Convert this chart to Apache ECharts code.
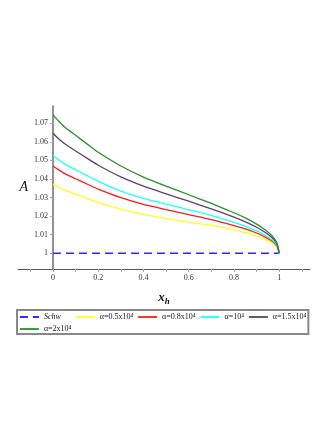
<!DOCTYPE html>
<html>
<head>
<meta charset="utf-8">
<script src="https://cdn.jsdelivr.net/npm/echarts@6/dist/echarts.min.js"></script>
<style>html,body{margin:0;padding:0;background:#fff}#c{width:332px;height:429px}</style>
</head>
<body>
<div id="c"></div>
<script>
var xs = [0, 0.02, 0.05, 0.1, 0.15, 0.2, 0.3, 0.4, 0.5, 0.6, 0.7, 0.8, 0.85, 0.9, 0.94, 0.97, 0.99, 1];
var schwX = [0, 1];
var schwY = [1, 1];
var a05 = [1.0372, 1.0359, 1.0341, 1.0318, 1.0295, 1.0273, 1.0238, 1.0209, 1.0186, 1.0167, 1.0150, 1.0126, 1.0111, 1.0093, 1.0073, 1.0054, 1.0032, 1.0];
var a08 = [1.0470, 1.0453, 1.0430, 1.0401, 1.0373, 1.0345, 1.0299, 1.0263, 1.0235, 1.0208, 1.0181, 1.0149, 1.0131, 1.0109, 1.0085, 1.0063, 1.0038, 1.0];
var a10 = [1.0526, 1.0507, 1.0481, 1.0449, 1.0418, 1.0387, 1.0335, 1.0295, 1.0264, 1.0234, 1.0203, 1.0166, 1.0145, 1.0120, 1.0094, 1.0070, 1.0042, 1.0];
var a15 = [1.0646, 1.0622, 1.0591, 1.0551, 1.0512, 1.0474, 1.0411, 1.0361, 1.0320, 1.0280, 1.0239, 1.0194, 1.0169, 1.0140, 1.0110, 1.0082, 1.0049, 1.0];
var a20 = [1.0745, 1.0718, 1.0681, 1.0635, 1.0589, 1.0544, 1.0470, 1.0410, 1.0361, 1.0315, 1.0268, 1.0218, 1.0190, 1.0157, 1.0124, 1.0092, 1.0055, 1.0];
var names = ['Schw', 'α=0.5x10⁴', 'α=0.8x10⁴', 'α=10⁴', 'α=1.5x10⁴', 'α=2x10⁴'];
var colors = ['#2a2aff', '#ffff1a', '#ff1a1a', '#1affff', '#5e3f6e', '#2a8f2a'];
var legendColors = ['#1a1aff', '#ffff1a', '#ee1a1a', '#1affff', '#3a1f3a', '#4aaa4a'];
var xLabels = [0, 0.2, 0.4, 0.6, 0.8, 1];
var xTicks = [-0.1, 0, 0.1, 0.2, 0.3, 0.4, 0.5, 0.6, 0.7, 0.8, 0.9, 1, 1.1];
var yLabels = [1, 1.01, 1.02, 1.03, 1.04, 1.05, 1.06, 1.07];

function pairs(x, y) { return x.map(function (v, i) { return [v, y[i]]; }); }

var serif = '"Liberation Serif", "DejaVu Serif", serif';
var curves = [a05, a08, a10, a15, a20];
var series = [{
  name: names[0], type: 'line', data: pairs(schwX, schwY), symbol: 'none',
  lineStyle: { color: colors[0], width: 1.5, type: [8, 5] }, itemStyle: { color: legendColors[0] }
}];
curves.forEach(function (c, i) {
  series.push({
    name: names[i + 1], type: 'line', data: pairs(xs, c), symbol: 'none',
    smooth: 0.2,
    lineStyle: { color: colors[i + 1], width: 1.3 }, itemStyle: { color: legendColors[i + 1] }
  });
});

var chart = echarts.init(document.getElementById('c'), null, { renderer: 'canvas' });
chart.setOption({
  animation: false,
  backgroundColor: '#fff',
  grid: { left: 18, right: 22, top: 106, bottom: 160, containLabel: false, outerBoundsMode: 'none' },
  xAxis: {
    type: 'value', min: -0.1547, max: 1.136,
    name: '{a|x}{b|h}', nameLocation: 'middle', nameGap: 20,
    nameTextStyle: { rich: {
      a: { fontFamily: serif, fontSize: 13, fontStyle: 'italic', fontWeight: 'bold', color: '#111' },
      b: { fontFamily: serif, fontSize: 9, fontStyle: 'italic', fontWeight: 'bold', color: '#111', padding: [8, 0, 0, 0] }
    } },
    axisLine: { lineStyle: { color: '#555', width: 1 } },
    axisTick: { show: true, length: 3, customValues: xTicks, lineStyle: { color: '#aaa' } },
    axisLabel: { customValues: xLabels, fontFamily: serif, fontSize: 8, color: '#333', margin: 5 },
    splitLine: { show: false }
  },
  yAxis: {
    type: 'value', min: 0.9915, max: 1.0793, offset: -35,
    name: 'A', nameLocation: 'middle', nameGap: 21, nameRotate: 0,
    nameTextStyle: { fontFamily: serif, fontSize: 14, fontStyle: 'italic', color: '#111' },
    axisLine: { onZero: false, lineStyle: { color: '#777', width: 1.6 } },
    axisTick: { show: true, length: 3, customValues: yLabels, lineStyle: { color: '#aaa' } },
    axisLabel: { customValues: yLabels, fontFamily: serif, fontSize: 8, color: '#333', margin: 5,
      formatter: function (v) { return String(Math.round(v * 100) / 100); } },
    splitLine: { show: false }
  },
  legend: {
    left: 17, top: 310, width: 292,
    padding: [3, 2, 1, 2],
    borderColor: '#888', borderWidth: 2,
    itemWidth: 19, itemHeight: 9, itemGap: 4,
    itemStyle: { opacity: 0 },
    lineStyle: { width: 1.8 },
    data: names,
    formatter: function (n) { return n === 'Schw' ? '{s|Schw}\u00a0\u00a0\u00a0\u00a0\u00a0' : n; },
    textStyle: { fontFamily: serif, fontSize: 8, color: '#222',
      rich: { s: { fontFamily: serif, fontSize: 8, fontStyle: 'italic', color: '#222' } } }
  },
  series: series
});
</script>
</body>
</html>
